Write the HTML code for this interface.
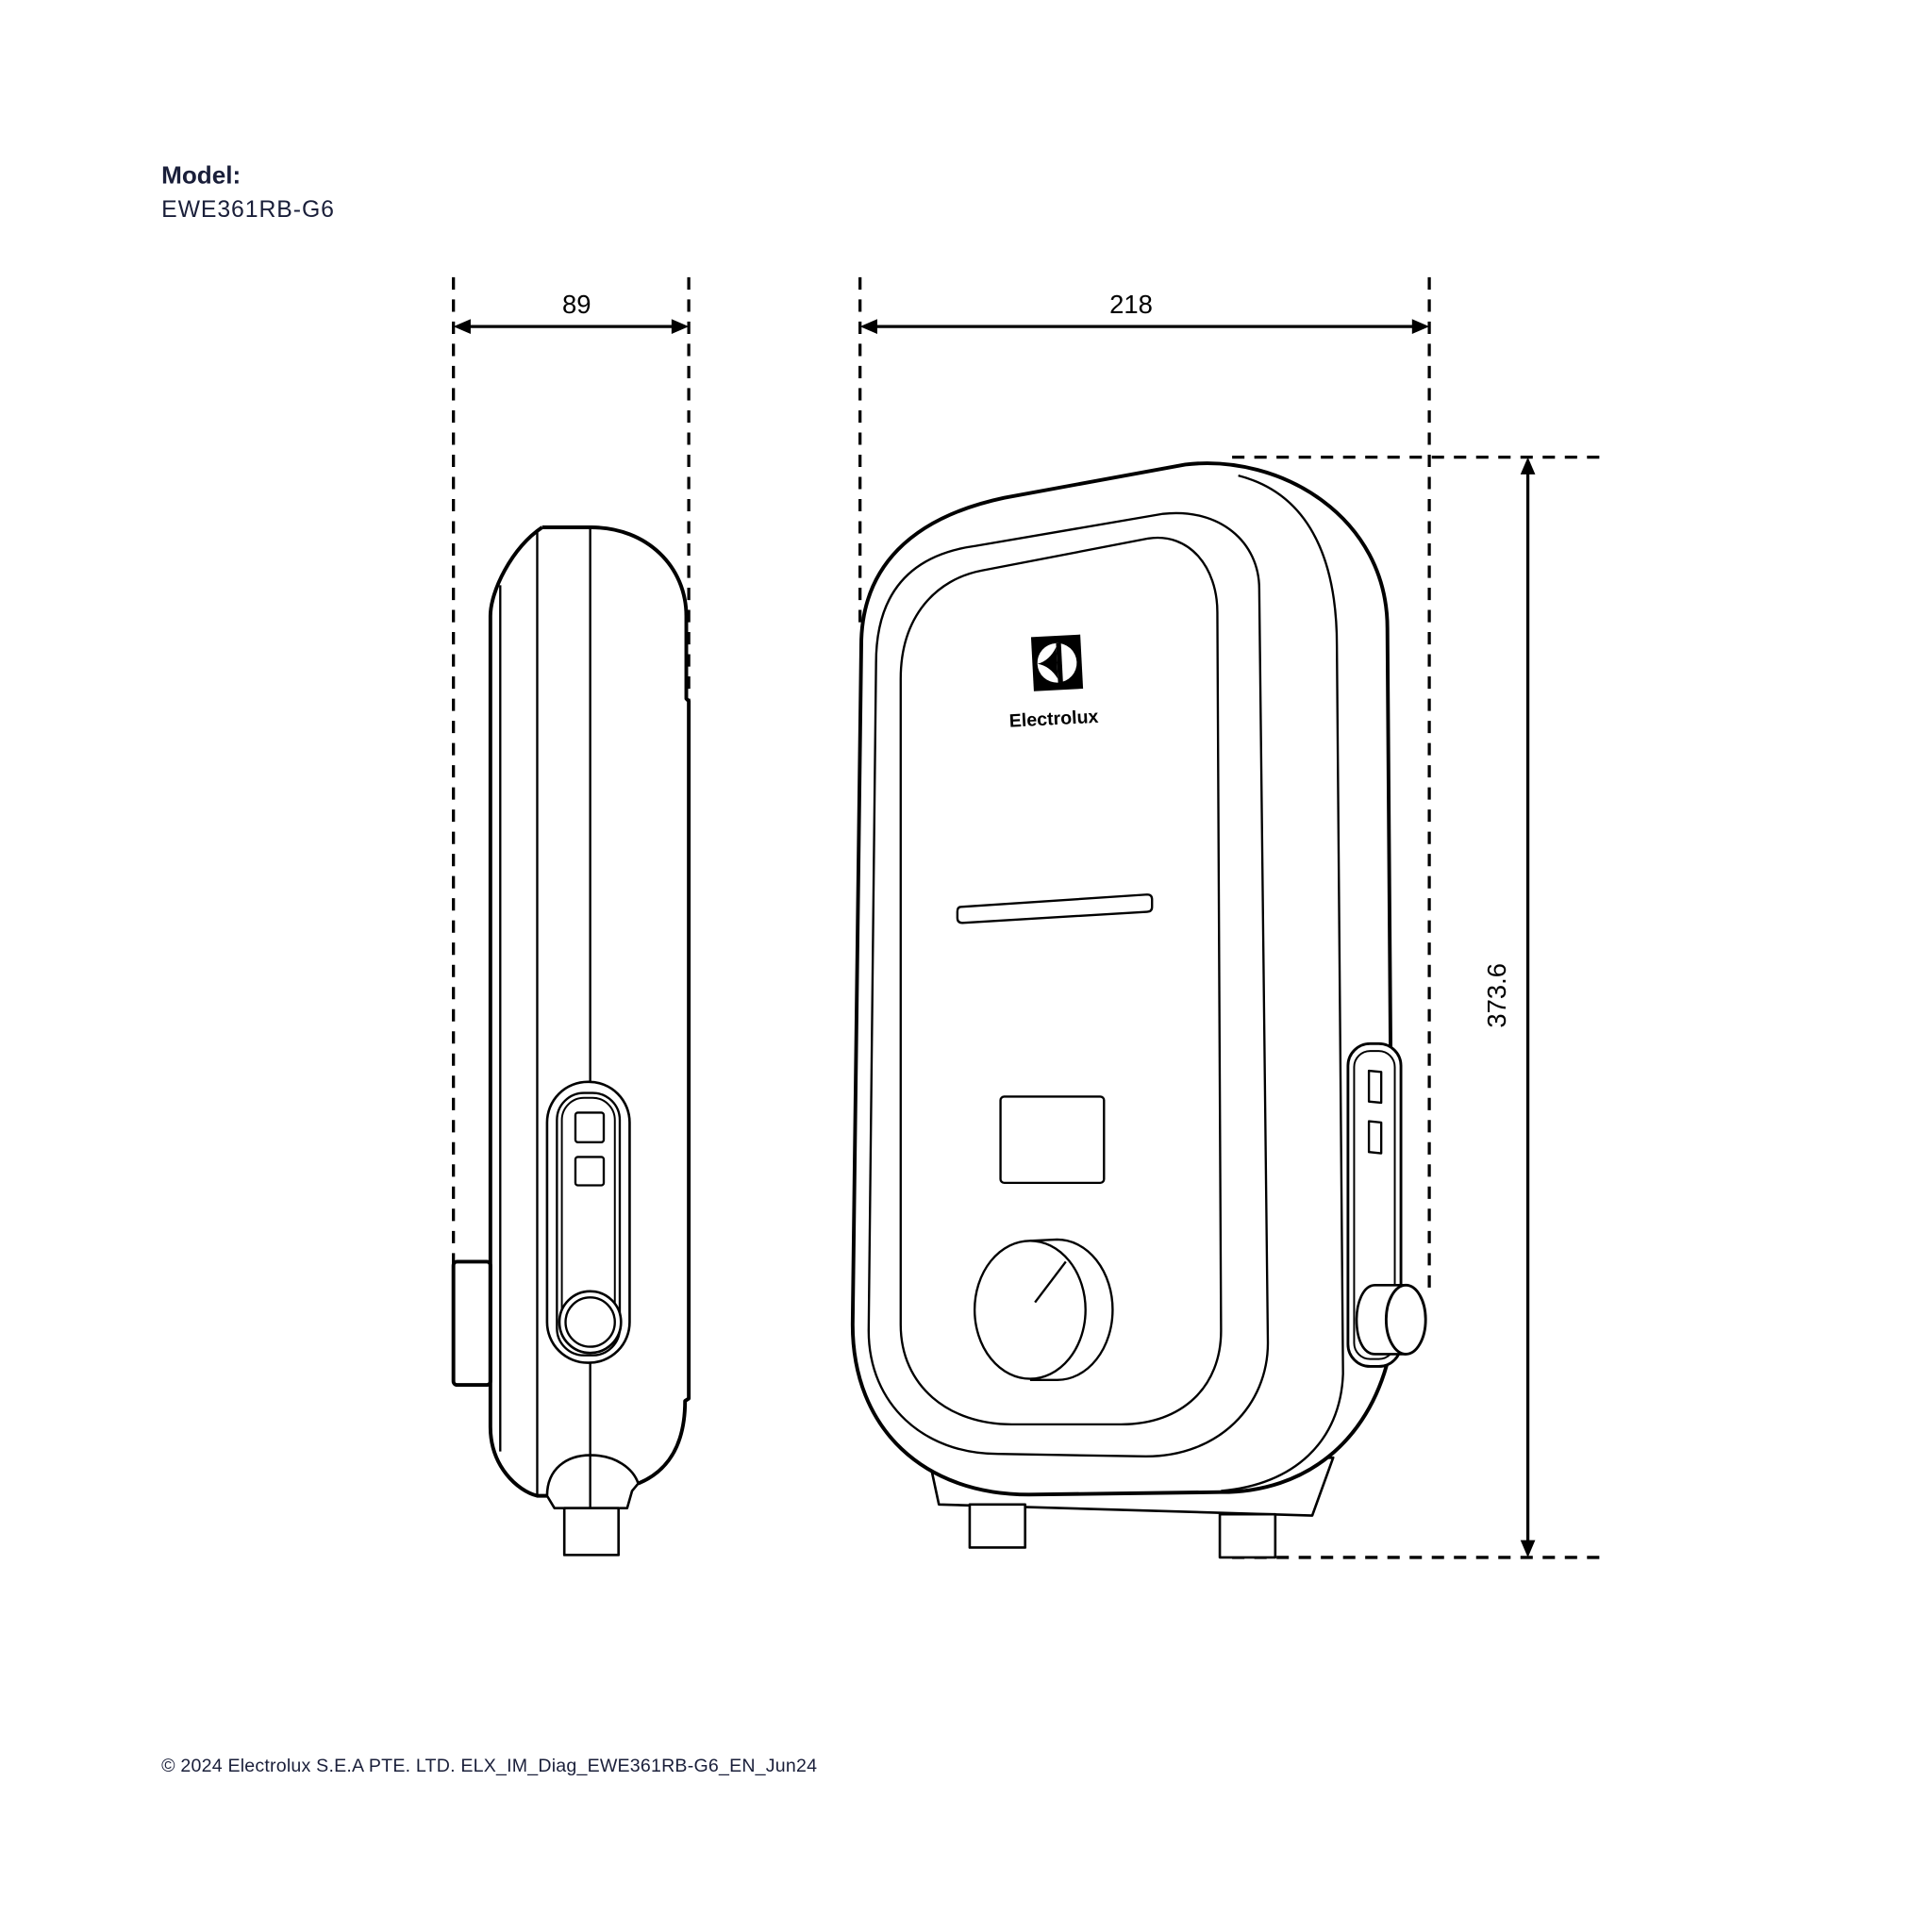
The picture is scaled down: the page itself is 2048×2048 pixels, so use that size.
<!DOCTYPE html>
<html><head><meta charset="utf-8"><style>
html,body{margin:0;padding:0;background:#fff;}
svg{display:block;}
</style></head><body>
<svg width="2048" height="2048" viewBox="0 0 1568 1568" xmlns="http://www.w3.org/2000/svg" font-family="Liberation Sans, sans-serif">
<rect width="1568" height="1568" fill="#fff"/>
<text x="131" y="149" font-size="20" font-weight="bold" fill="#1a1f3a">Model:</text>
<text x="131" y="176" font-size="19" fill="#1a1f3a" textLength="140">EWE361RB-G6</text>
<text x="131" y="1438" font-size="15" fill="#1a1f3a" textLength="532">© 2024 Electrolux S.E.A PTE. LTD. ELX_IM_Diag_EWE361RB-G6_EN_Jun24</text>

<g stroke="#000" stroke-width="2.5" stroke-dasharray="10 8" fill="none">
<line x1="368" y1="225" x2="368" y2="1030"/>
<line x1="559" y1="225" x2="559" y2="600"/>
<line x1="698" y1="225" x2="698" y2="512"/>
<line x1="1160" y1="225" x2="1160" y2="1050"/>
<line x1="1000" y1="371" x2="1300" y2="371"/>
<line x1="1000" y1="1264" x2="1300" y2="1264"/>
</g>
<g stroke="#000" stroke-width="2.5" fill="none">
<line x1="372" y1="265" x2="555" y2="265"/>
<line x1="702" y1="265" x2="1156" y2="265"/>
<line x1="1240" y1="375" x2="1240" y2="1260"/>
</g>
<g fill="#000">
<polygon points="368,265 382,259 382,271"/>
<polygon points="559,265 545,259 545,271"/>
<polygon points="698,265 712,259 712,271"/>
<polygon points="1160,265 1146,259 1146,271"/>
<polygon points="1240,371 1234,385 1246,385"/>
<polygon points="1240,1264 1234,1250 1246,1250"/>
</g>
<text x="468" y="254" font-size="21" text-anchor="middle">89</text>
<text x="918" y="254" font-size="21" text-anchor="middle">218</text>
<text x="0" y="0" font-size="21" text-anchor="middle" transform="translate(1222,808) rotate(-90)">373.6</text>

<!-- Side view -->
<g stroke="#000" fill="none" stroke-linejoin="round">
<rect x="368" y="1024" width="30" height="100" rx="3" stroke-width="3" fill="#fff"/>
<path d="M440 428 L480 428 C525 428 557 460 557 500 L557 567 L559 569 L559 1135 L556 1137 C556 1175 540 1195 518 1204 M440 428 C415 445 398 480 398 500 L398 1158 C398 1190 420 1210 436 1214 L444 1214" stroke-width="3"/>
<line x1="406" y1="475" x2="406" y2="1178" stroke-width="1.8"/>
<line x1="436" y1="430" x2="436" y2="1214" stroke-width="1.8"/>
<line x1="479" y1="428" x2="479" y2="878" stroke-width="1.8"/>
<line x1="479" y1="1106" x2="479" y2="1224" stroke-width="1.8"/>
<path d="M444 1214 L450 1224 L509 1224 L513 1210 L518 1204 C514 1192 500 1181 479 1181 C460 1181 444 1192 444 1214 Z" stroke-width="2"/>
<rect x="458" y="1224" width="44" height="38" stroke-width="2"/>
<rect x="444" y="878" width="67" height="228" rx="33" stroke-width="2" fill="#fff"/>
<rect x="452" y="887" width="51" height="213" rx="22" stroke-width="1.8"/>
<rect x="456" y="891" width="43" height="205" rx="18" stroke-width="1.5"/>
<rect x="467" y="903" width="23" height="24" rx="2" stroke-width="1.8"/>
<rect x="467" y="939" width="23" height="23" rx="2" stroke-width="1.8"/>
<circle cx="479" cy="1073" r="25" stroke-width="2" fill="#fff"/>
<circle cx="479" cy="1073" r="20" stroke-width="1.8"/>
</g>

<!-- Front view -->
<g stroke="#000" fill="none" stroke-linejoin="round">
<polygon points="756,1193 762,1221 1065,1230 1082,1183" stroke-width="2" fill="#fff"/>
<rect x="787" y="1221" width="45" height="35" stroke-width="2" fill="#fff"/>
<rect x="990" y="1229" width="45" height="35" stroke-width="2" fill="#fff"/>
<path d="M699 524 C699 460 740 420 815 404 L962 377 C1040 368 1126 420 1126 510 L1130 1040 L1127 1102 C1110 1170 1060 1211 991 1211 L835 1213 C750 1213 692 1160 692 1075 Z" stroke-width="3" fill="#fff"/>
<path d="M1005 386 C1060 400 1085 450 1085 524 L1090 1115 C1088 1170 1050 1205 991 1210" stroke-width="1.8"/>
<path d="M711 538 C711 480 740 450 792 443 L944 417 C990 412 1022 440 1022 478 L1029 1090 C1029 1140 990 1182 930 1182 L810 1180 C750 1180 705 1140 705 1080 Z" stroke-width="1.8"/>
<path d="M731 551 C731 500 760 470 797 463 L932 437 C965 432 988 460 988 497 L991 1080 C991 1125 960 1156 910 1156 L821 1156 C770 1156 731 1125 731 1075 Z" stroke-width="1.8"/>
<path d="M780 736 L931 726 Q935 726 935 730 L935 736 Q935 740 931 740 L781 749 Q777 749 777 745 L777 740 Q777 736 780 736 Z" stroke-width="1.8"/>
<rect x="812" y="890" width="84" height="70" rx="3" stroke-width="1.8"/>
<path d="M836 1007 L858 1006 A45 57 0 0 1 858 1120 L836 1120" stroke-width="1.8" fill="#fff"/>
<ellipse cx="836" cy="1063" rx="45" ry="56" stroke-width="1.8" fill="#fff"/>
<line x1="840" y1="1057" x2="865" y2="1024" stroke-width="1.8"/>
<rect x="1094" y="847" width="43" height="262" rx="18" stroke-width="2.2" fill="#fff"/>
<rect x="1099" y="853" width="33" height="250" rx="13" stroke-width="1.5"/>
<polygon points="1111,869 1121,870 1121,895 1111,894" stroke-width="1.8"/>
<polygon points="1111,910 1121,911 1121,936 1111,935" stroke-width="1.8"/>
<path d="M1141 1043 L1116 1043 C1106 1043 1101 1058 1101 1071 C1101 1086 1106 1099 1116 1099 L1141 1099" stroke-width="2" fill="#fff"/>
<ellipse cx="1141" cy="1071" rx="16" ry="28" stroke-width="2.2" fill="#fff"/>
</g>
<!-- Logo -->
<g transform="rotate(-3 858 540)">
<rect x="838" y="516" width="40" height="44" fill="#000"/>
<circle cx="858" cy="538" r="16" fill="#fff"/>
<path d="M858 522 L858 554 L862 554 L862 522 Z" fill="#000"/>
<path d="M842 538 Q852 536 858 525 L858 551 Q852 540 842 538 Z" fill="#000"/>
<text x="853" y="588" font-size="15" font-weight="bold" text-anchor="middle">Electrolux</text>
</g>
</svg>
</body></html>
